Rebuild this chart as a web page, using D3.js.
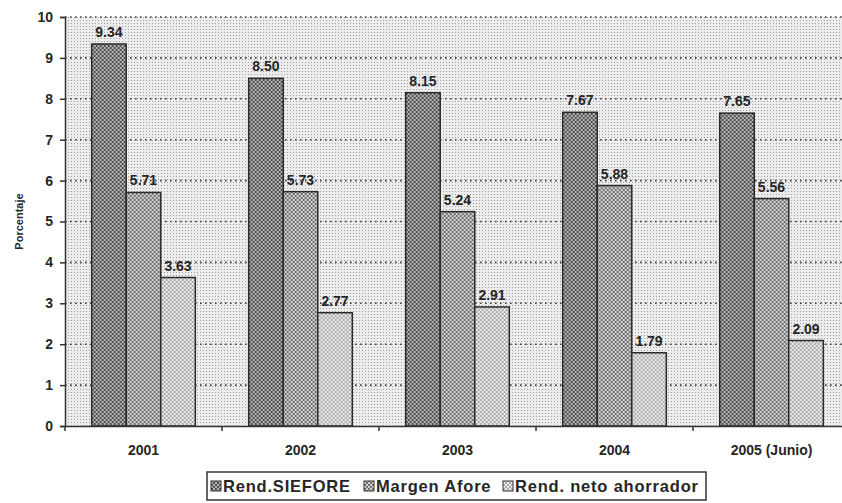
<!DOCTYPE html>
<html>
<head>
<meta charset="utf-8">
<script src="https://cdn.jsdelivr.net/npm/d3@7"></script>
<style>
  html, body { margin: 0; padding: 0; background: #fff; }
  svg { display: block; font-family: "Liberation Sans", Arial, sans-serif; }
</style>
</head>
<body>
<svg id="chart" width="842" height="503"></svg>
<script>
// Rendimientos anuales (porcentaje)
const years = ["2001", "2002", "2003", "2004", "2005 (Junio)"];
const seriesNames = ["Rend.SIEFORE", "Margen Afore", "Rend. neto ahorrador"];
const rendSiefore = [9.34, 8.50, 8.15, 7.67, 7.65];
const margenAfore = [5.71, 5.73, 5.24, 5.88, 5.56];
const rendNeto = [3.63, 2.77, 2.91, 1.79, 2.09];
const yTicks = [0, 1, 2, 3, 4, 5, 6, 7, 8, 9, 10];

const seriesValues = [rendSiefore, margenAfore, rendNeto];

const svg = d3.select("#chart");
const margin = { left: 65, right: -8, top: 17, bottom: 77 };
const W = 842, H = 503;
const plotW = W - margin.left - margin.right;
const plotH = H - margin.top - margin.bottom;
const ink = "#262626";

const defs = svg.append("defs");

// Stippled plot background
const bgPat = defs.append("pattern").attr("id", "bgdots")
  .attr("width", 3).attr("height", 3).attr("patternUnits", "userSpaceOnUse");
bgPat.append("rect").attr("width", 3).attr("height", 3).attr("fill", "#ececec");
bgPat.append("rect").attr("x", 0).attr("y", 0).attr("width", 1).attr("height", 1).attr("fill", "#a0a0a0");

// Checkered bar fills, darkest for the first series
const fills = [
  { id: "p0", a: "#505050", b: "#b4b4b4" },
  { id: "p1", a: "#727272", b: "#d0d0d0" },
  { id: "p2", a: "#ababab", b: "#ebebeb" }
];
fills.forEach(f => {
  const p = defs.append("pattern").attr("id", f.id)
    .attr("width", 4).attr("height", 4).attr("patternUnits", "userSpaceOnUse");
  p.append("rect").attr("width", 4).attr("height", 4).attr("fill", f.b);
  p.append("rect").attr("x", 0).attr("y", 0).attr("width", 2).attr("height", 2).attr("fill", f.a);
  p.append("rect").attr("x", 2).attr("y", 2).attr("width", 2).attr("height", 2).attr("fill", f.a);
});

const g = svg.append("g").attr("transform", `translate(${margin.left},${margin.top})`);

const x = d3.scaleBand().domain(years).range([0, plotW]).paddingInner(0.34).paddingOuter(0.17);
const x1 = d3.scaleBand().domain(d3.range(seriesNames.length)).range([0, x.bandwidth()]);
const y = d3.scaleLinear().domain([0, 10]).range([plotH, 0]);

// Plot area
g.append("rect").attr("width", plotW).attr("height", plotH).attr("fill", "url(#bgdots)");

// Dotted horizontal gridlines
g.append("g").selectAll("line").data(yTicks.filter(d => d > 0)).join("line")
  .attr("x1", 0).attr("x2", plotW)
  .attr("y1", d => y(d)).attr("y2", d => y(d))
  .attr("stroke", "#404040").attr("stroke-width", 1.6)
  .attr("stroke-dasharray", "1.6,3.4");

// Bars
const groups = g.append("g").selectAll("g").data(years).join("g")
  .attr("transform", d => `translate(${x(d)},0)`);

groups.selectAll("rect").data((d, i) => seriesValues.map((s, k) => ({ k, v: s[i] }))).join("rect")
  .attr("x", d => x1(d.k))
  .attr("y", d => y(d.v))
  .attr("width", x1.bandwidth())
  .attr("height", d => y(0) - y(d.v))
  .attr("fill", d => `url(#p${d.k})`)
  .attr("stroke", "#2a2a2a").attr("stroke-width", 1.5);

// Value labels
groups.selectAll("text").data((d, i) => seriesValues.map((s, k) => ({ k, v: s[i] }))).join("text")
  .attr("x", d => x1(d.k) + x1.bandwidth() / 2)
  .attr("y", d => y(d.v) - 7)
  .attr("text-anchor", "middle")
  .attr("font-size", 14).attr("font-weight", "bold").attr("fill", ink)
  .text(d => d.v.toFixed(2));

// Y axis
const yAxis = g.append("g").call(d3.axisLeft(y).tickValues(yTicks).tickSize(5).tickPadding(7));
yAxis.select(".domain").attr("stroke", "#333").attr("stroke-width", 1.5);
yAxis.selectAll(".tick line").attr("stroke", "#333").attr("stroke-width", 1.5);
yAxis.selectAll(".tick text").attr("font-size", 14).attr("font-weight", "bold")
  .attr("fill", ink).attr("font-family", "Liberation Sans, Arial, sans-serif");

// X axis
const xAxis = g.append("g").attr("transform", `translate(0,${plotH})`)
  .call(d3.axisBottom(x).tickSize(0).tickPadding(19));
xAxis.select(".domain").attr("stroke", "#333").attr("stroke-width", 1.5);
xAxis.selectAll(".tick text").attr("font-size", 14).attr("font-weight", "bold")
  .attr("fill", ink).attr("font-family", "Liberation Sans, Arial, sans-serif");
// Category separator ticks
const step = x.step();
g.append("g").selectAll("line").data(d3.range(years.length + 1)).join("line")
  .attr("x1", d => d * step).attr("x2", d => d * step)
  .attr("y1", plotH).attr("y2", plotH + 5)
  .attr("stroke", "#333").attr("stroke-width", 1.5);

// Y axis title
svg.append("text")
  .attr("transform", `translate(23,${margin.top + plotH / 2}) rotate(-90)`)
  .attr("text-anchor", "middle")
  .attr("font-size", 11).attr("font-weight", "bold").attr("fill", ink)
  .text("Porcentaje");

// Legend
const legend = svg.append("g").attr("transform", "translate(207,472)");
legend.append("rect").attr("width", 499).attr("height", 28)
  .attr("fill", "#fff").attr("stroke", "#333").attr("stroke-width", 1.5);
const legX = [4, 157, 296];
seriesNames.forEach((name, k) => {
  const it = legend.append("g").attr("transform", `translate(${legX[k]},0)`);
  it.append("rect").attr("x", 0).attr("y", 9).attr("width", 10).attr("height", 10)
    .attr("fill", `url(#p${k})`).attr("stroke", "#333").attr("stroke-width", 1);
  it.append("text").attr("x", 12).attr("y", 20)
    .attr("font-size", 16.5).attr("font-weight", "bold").attr("fill", ink)
    .attr("letter-spacing", 0.8)
    .text(name);
});
</script>
</body>
</html>
